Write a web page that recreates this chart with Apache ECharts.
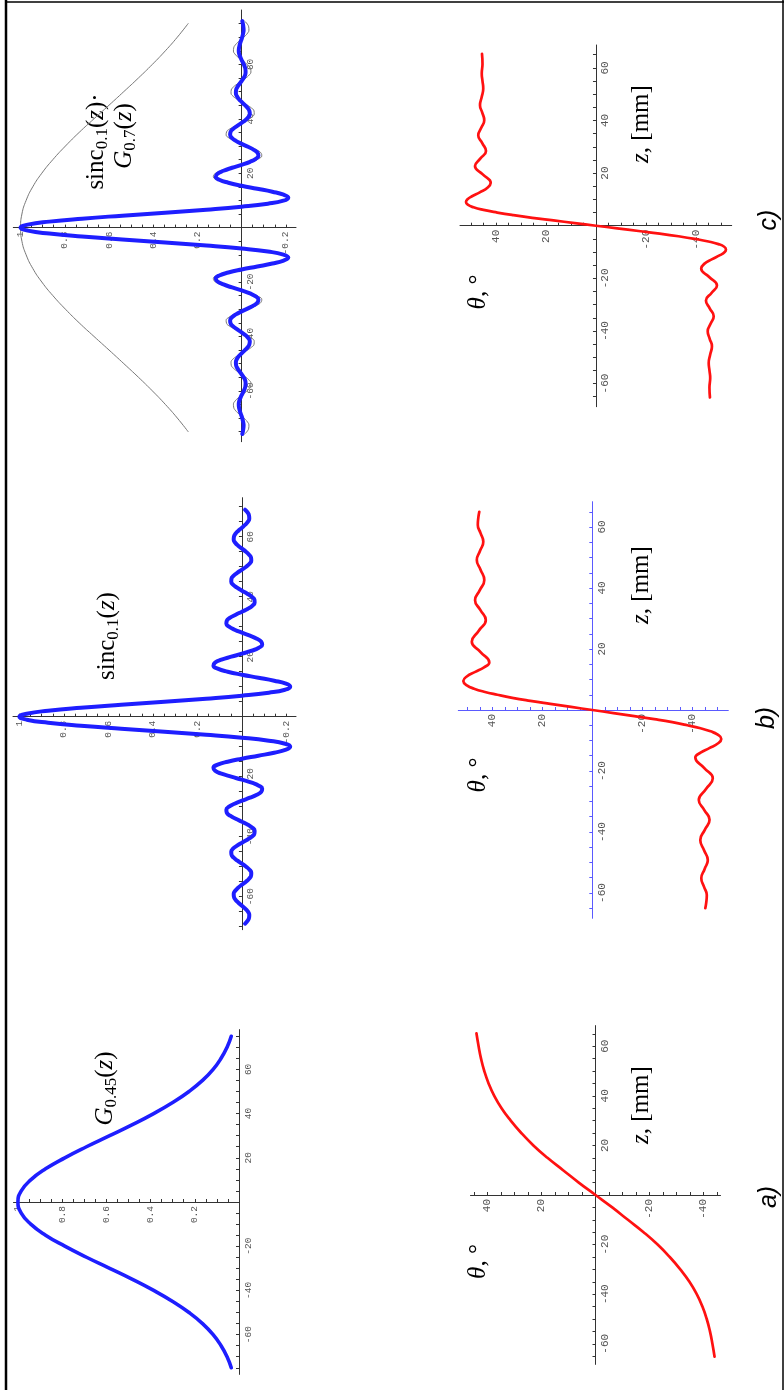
<!DOCTYPE html>
<html><head><meta charset="utf-8">
<script src="https://cdn.jsdelivr.net/npm/echarts@6/dist/echarts.min.js"></script>
<style>html,body{margin:0;padding:0;background:#fff}#c{width:784px;height:1390px}</style>
</head><body><div id="c"></div>
<script>
// ---------- data ----------
// panel a, top: G_0.45(z)
const zG = [-75,-70,-65,-60,-55,-50,-45,-40,-35,-30,-25,-20,-15,-10,-5,0,5,10,15,20,25,30,35,40,45,50,55,60,65,70,75];
const gA = [0.035,0.054,0.081,0.117,0.165,0.226,0.300,0.386,0.482,0.585,0.690,0.788,0.875,0.942,0.985,1,0.985,0.942,0.875,0.788,0.690,0.585,0.482,0.386,0.300,0.226,0.165,0.117,0.081,0.054,0.035];
// panel a, bottom: theta(z)
const zTa = [-65.2,-60,-55,-50,-45,-40,-35,-30,-25,-20,-15,-10,-5,0,5,10,15,20,25,30,35,40,45,50,55,60,65.2];
const thA = [-44.1,-43.3,-42.4,-41.2,-39.6,-37.5,-34.8,-31.4,-27.5,-23,-17.8,-12,-6.2,0,6.2,12,17.8,23,27.5,31.4,34.8,37.5,39.6,41.2,42.4,43.3,44.1];
// panel b, top: sinc_0.1(z)
const zB = [-69,-68,-67,-66,-65,-64,-63,-62,-61,-60,-59,-58,-57,-56,-55,-54,-53,-52,-51,-50,-49,-48,-47,-46,-45,-44,-43,-42,-41,-40,-39,-38,-37,-36,-35,-34,-33,-32,-31,-30,-29,-28,-27,-26,-25,-24,-23,-22,-21,-20,-19,-18,-17,-16,-15,-14,-13,-12,-11,-10,-9,-8,-7,-6,-5,-4,-3,-2,-1,0,1,2,3,4,5,6,7,8,9,10,11,12,13,14,15,16,17,18,19,20,21,22,23,24,25,26,27,28,29,30,31,32,33,34,35,36,37,38,39,40,41,42,43,44,45,46,47,48,49,50,51,52,53,54,55,56,57,58,59,60,61,62,63,64,65,66,67,68,69];
const sincB = [-0.014,-0.026,-0.032,-0.033,-0.027,-0.015,0,0.016,0.029,0.036,0.037,0.030,0.017,0,-0.018,-0.032,-0.041,-0.042,-0.034,-0.019,0,0.020,0.037,0.047,0.048,0.040,0.022,0,-0.024,-0.044,-0.056,-0.057,-0.047,-0.027,0,0.028,0.053,0.068,0.070,0.058,0.033,0,-0.036,-0.067,-0.087,-0.091,-0.076,-0.044,0,0.048,0.092,0.121,0.128,0.109,0.064,0,-0.074,-0.145,-0.198,-0.217,-0.194,-0.121,0,0.161,0.348,0.543,0.724,0.871,0.967,
 1,
 0.967,0.871,0.724,0.543,0.348,0.161,0,-0.121,-0.194,-0.217,-0.198,-0.145,-0.074,0,0.064,0.109,0.128,0.121,0.092,0.048,0,-0.044,-0.076,-0.091,-0.087,-0.067,-0.036,0,0.033,0.058,0.070,0.068,0.053,0.028,0,-0.027,-0.047,-0.057,-0.056,-0.044,-0.024,0,0.022,0.040,0.048,0.047,0.037,0.020,0,-0.019,-0.034,-0.042,-0.041,-0.032,-0.018,0,0.017,0.030,0.037,0.036,0.029,0.016,0,-0.015,-0.027,-0.033,-0.032,-0.026,-0.014];
// panel b, bottom: theta(z)
const zTb = [-65,-63,-60.7,-58,-55.2,-52.2,-49.2,-46,-42.6,-39.3,-36,-32.8,-29.5,-26,-22.4,-19,-15.6,-14,-12.5,-11,-9.5,-8,-7,-6,-5,-4,-3,-2,-1,0,1,2,3,4,5,6,7,8,9.5,11,12.5,14,15.6,19,22.4,26,29.5,32.8,36,39.3,42.6,46,49.2,52.2,55.2,58,60.7,63,65];
const thB = [-45.2,-45.6,-45.8,-44.7,-43.6,-44.9,-46.2,-44.7,-43.2,-45,-46.9,-44.8,-42.6,-45.4,-48.2,-44.7,-41.2,-43.3,-46.8,-50.2,-51.6,-50,-47.3,-43.3,-38,-32,-24.8,-16.8,-8.5,0,8.5,16.8,24.8,32,38,43.3,47.3,50,51.6,50.2,46.8,43.3,41.2,44.7,48.2,45.4,42.6,44.8,46.9,45,43.2,44.7,46.2,44.9,43.6,44.7,45.8,45.6,45.2];
// panel c, top: sinc_0.1(z)*G_0.7(z), thin grey G_0.7(z) and sinc_0.1(z)
const zC = [-75.9,-74.8,-73.7,-72.6,-71.5,-70.4,-69.3,-68.2,-67.1,-66,-64.9,-63.8,-62.7,-61.6,-60.5,-59.4,-58.3,-57.2,-56.1,-55,-53.9,-52.8,-51.7,-50.6,-49.5,-48.4,-47.3,-46.2,-45.1,-44,-42.9,-41.8,-40.7,-39.6,-38.5,-37.4,-36.3,-35.2,-34.1,-33,-31.9,-30.8,-29.7,-28.6,-27.5,-26.4,-25.3,-24.2,-23.1,-22,-20.9,-19.8,-18.7,-17.6,-16.5,-15.4,-14.3,-13.2,-12.1,-11,-9.9,-8.8,-7.7,-6.6,-5.5,-4.4,-3.3,-2.2,-1.1,0,1.1,2.2,3.3,4.4,5.5,6.6,7.7,8.8,9.9,11,12.1,13.2,14.3,15.4,16.5,17.6,18.7,19.8,20.9,22,23.1,24.2,25.3,26.4,27.5,28.6,29.7,30.8,31.9,33,34.1,35.2,36.3,37.4,38.5,39.6,40.7,41.8,42.9,44,45.1,46.2,47.3,48.4,49.5,50.6,51.7,52.8,53.9,55,56.1,57.2,58.3,59.4,60.5,61.6,62.7,63.8,64.9,66,67.1,68.2,69.3,70.4,71.5,72.6,73.7,74.8,75.9];
const sincGC = [-0.003,-0.006,-0.008,-0.009,-0.007,-0.004,0,0.005,0.009,0.012,0.013,0.011,0.006,0,-0.007,-0.013,-0.017,-0.018,-0.016,-0.009,0,0.010,0.019,0.025,0.026,0.022,0.013,0,-0.014,-0.027,-0.035,-0.037,-0.031,-0.018,0,0.020,0.038,0.050,0.052,0.044,0.026,0,-0.029,-0.055,-0.072,-0.076,-0.064,-0.038,0,0.043,0.082,0.109,0.117,0.101,0.060,0,-0.071,-0.139,-0.190,-0.211,-0.189,-0.119,0,0.159,0.346,0.540,0.722,0.870,0.967,
 1,
 0.967,0.870,0.722,0.540,0.346,0.159,0,-0.119,-0.189,-0.211,-0.190,-0.139,-0.071,0,0.060,0.101,0.117,0.109,0.082,0.043,0,-0.038,-0.064,-0.076,-0.072,-0.055,-0.029,0,0.026,0.044,0.052,0.050,0.038,0.020,0,-0.018,-0.031,-0.037,-0.035,-0.027,-0.014,0,0.013,0.022,0.026,0.025,0.019,0.010,0,-0.009,-0.016,-0.018,-0.017,-0.013,-0.007,0,0.006,0.011,0.013,0.012,0.009,0.005,0,-0.004,-0.007,-0.009,-0.008,-0.006,-0.003];
const sincC = sincB;
const g7 = [0.242,0.291,0.345,0.404,0.467,0.533,0.600,0.668,0.735,0.797,0.854,0.904,0.945,0.975,0.994,1,0.994,0.975,0.945,0.904,0.854,0.797,0.735,0.668,0.600,0.533,0.467,0.404,0.345,0.291,0.242];
// panel c, bottom: theta(z)
const zTc = [-65.3,-61.5,-57.9,-55,-52.2,-49,-45.8,-43,-40.1,-37.2,-34.4,-31.4,-28.4,-25.5,-22.7,-19.5,-16.3,-14.5,-12.7,-11.2,-10,-9,-8,-7,-6,-5,-4,-3,-2,-1,0,1,2,3,4,5,6,7,8,9,10,11.2,12.7,14.5,16.3,19.5,22.7,25.5,28.4,31.4,34.4,37.2,40.1,43,45.8,49,52.2,55,57.9,61.5,65.3];
const thC = [-45.6,-45.4,-45.7,-45.4,-45.1,-45.7,-46.4,-45.5,-44.7,-45.9,-47.1,-45.5,-44,-46.3,-48.4,-45.3,-42.1,-43.3,-46.5,-49.6,-51.5,-52,-51.3,-49,-45,-39.5,-33,-25.5,-17,-8.5,0,8.5,17,25.5,33,39.5,45,49,51.3,52,51.5,49.6,46.5,43.3,42.1,45.3,48.4,46.3,44,45.5,47.1,45.9,44.7,45.5,46.4,45.7,45.1,45.4,45.7,45.4,45.6];
// ticks and tick labels
const zTicks78 = [-75,-70,-65,-60,-55,-50,-45,-40,-35,-30,-25,-20,-15,-10,-5,5,10,15,20,25,30,35,40,45,50,55,60,65,70,75];
const zTicks70 = [-70,-65,-60,-55,-50,-45,-40,-35,-30,-25,-20,-15,-10,-5,5,10,15,20,25,30,35,40,45,50,55,60,65,70];
const zTicks65 = [-65,-60,-55,-50,-45,-40,-35,-30,-25,-20,-15,-10,-5,5,10,15,20,25,30,35,40,45,50,55,60,65];
const zLabels = [-60,-40,-20,20,40,60];
const vTicksG = [0.05,0.1,0.15,0.2,0.25,0.3,0.35,0.4,0.45,0.5,0.55,0.6,0.65,0.7,0.75,0.8,0.85,0.9,0.95,1];
const vTicksS = [-0.2,-0.15,-0.1,-0.05,0.05,0.1,0.15,0.2,0.25,0.3,0.35,0.4,0.45,0.5,0.55,0.6,0.65,0.7,0.75,0.8,0.85,0.9,0.95,1];
const vLabelsG = [0.2,0.4,0.6,0.8,1];
const vLabelsS = [-0.2,0.2,0.4,0.6,0.8,1];
const thTicks45 = [-45,-40,-35,-30,-25,-20,-15,-10,-5,5,10,15,20,25,30,35,40,45];
const thTicks50 = [-50,-45,-40,-35,-30,-25,-20,-15,-10,-5,5,10,15,20,25,30,35,40,45,50];
const thLabels = [-40,-20,20,40];

// ---------- layout ----------
const grids = [
  { left: 13.5, top: 1029.6, width: 225.5, height: 344.8 },
  { left: 470.5, top: 1025.6, width: 250, height: 338.8 },
  { left: 13, top: 497.7, width: 283, height: 432 },
  { left: 458.3, top: 501.7, width: 270, height: 416.6 },
  { left: 13.3, top: 10, width: 282.7, height: 431.7 },
  { left: 460, top: 45, width: 271.7, height: 361.7 }
];
const vRange = [[0, 1.02], [-46.3, 46.3], [-0.243, 1.029], [-54.4, 53.6], [-0.246, 1.033], [-54.3, 54.4]];
const zRange = [[-78, 78], [-68.3, 68.3], [-71, 73], [-68.3, 68.3], [-78.7, 80], [-68.8, 68.7]];

const pairs = (vs, zs) => zs.map((z, i) => [vs[i], z]);
const mono = 'Liberation Mono';
const serif = 'Liberation Serif';

function vAxis(gi, ticks, labels, fs, col) {
  const [mn, mx] = vRange[gi], [zmn, zmx] = zRange[gi];
  const off = -grids[gi].height * (0 - zmn) / (zmx - zmn);
  return {
    type: 'value', gridIndex: gi, min: mn, max: mx, inverse: true, position: 'bottom', offset: off,
    axisLine: { onZero: false, lineStyle: { color: col, width: 1 } },
    axisTick: { show: true, inside: true, length: 3, customValues: ticks, lineStyle: { color: col, width: 1 } },
    axisLabel: { customValues: labels, rotate: 90, fontSize: fs, fontFamily: mono, color: '#555', margin: 4,
                 formatter: v => String(v) },
    splitLine: { show: false }
  };
}
function zAxis(gi, ticks, fs, col) {
  const [mn, mx] = vRange[gi], [zmn, zmx] = zRange[gi];
  const off = -grids[gi].width * (0 - mn) / (mx - mn);
  return {
    type: 'value', gridIndex: gi, min: zmn, max: zmx, position: 'right', offset: off,
    axisLine: { onZero: false, lineStyle: { color: col, width: 1 } },
    axisTick: { show: true, inside: true, length: 3, customValues: ticks, lineStyle: { color: col, width: 1 } },
    axisLabel: { customValues: zLabels, rotate: 90, fontSize: fs, fontFamily: mono, color: '#555', margin: 4,
                 formatter: v => String(v) },
    splitLine: { show: false }
  };
}
function line(gi, data, color, width, smooth) {
  return { type: 'line', xAxisIndex: gi, yAxisIndex: gi, data: data, showSymbol: false, symbol: 'none',
           smooth: smooth, silent: true, animation: false, z: 5,
           lineStyle: { color: color, width: width, cap: 'round', join: 'round' } };
}

const BLUE = '#1e1eff', RED = '#ff1111', AX = '#333', AXB = '#5a5aff';

const rich = {
  i: { fontFamily: serif, fontStyle: 'italic', fontSize: 25, lineHeight: 30, color: '#000' },
  n: { fontFamily: serif, fontSize: 25, lineHeight: 30, color: '#000' },
  s: { fontFamily: serif, fontSize: 17, lineHeight: 14, verticalAlign: 'bottom', color: '#000' }
};
function rtext(x, y, t) {
  return { type: 'text', x: x, y: y, rotation: Math.PI / 2, silent: true,
           style: { text: t, rich: rich, align: 'center', verticalAlign: 'middle' } };
}
function ptext(x, y, t) {
  return { type: 'text', x: x, y: y, rotation: Math.PI / 2, silent: true,
           style: { text: t, fontFamily: 'Liberation Sans', fontStyle: 'italic', fontSize: 25, fill: '#000',
                    align: 'center', verticalAlign: 'middle' } };
}

const option = {
  backgroundColor: '#fff',
  animation: false,
  grid: grids,
  xAxis: [
    vAxis(0, vTicksG, vLabelsG, 9.5, AX),
    vAxis(1, thTicks45, thLabels, 11, AX),
    vAxis(2, vTicksS, vLabelsS, 9.5, AX),
    vAxis(3, thTicks50, thLabels, 11, AXB),
    vAxis(4, vTicksS, vLabelsS, 9.5, AX),
    vAxis(5, thTicks50, thLabels, 11, AX)
  ],
  yAxis: [
    zAxis(0, zTicks78, 9.5, AX),
    zAxis(1, zTicks65, 11, AX),
    zAxis(2, zTicks70, 9.5, AX),
    zAxis(3, zTicks65, 11, AXB),
    zAxis(4, zTicks78, 9.5, AX),
    zAxis(5, zTicks65, 11, AX)
  ],
  series: [
    line(0, pairs(gA, zG), BLUE, 3.6, true),
    line(1, pairs(thA, zTa), RED, 2.7, true),
    line(2, pairs(sincB, zB), BLUE, 4, true),
    line(3, pairs(thB, zTb), RED, 2.7, true),
    line(4, pairs(g7, zG), '#777', 1, true),
    line(4, pairs(sincC, zC), '#777', 1, true),
    line(4, pairs(sincGC, zC), BLUE, 4, true),
    line(5, pairs(thC, zTc), RED, 2.7, true)
  ],
  graphic: [
    { type: 'line', silent: true, shape: { x1: 6, y1: 0, x2: 6, y2: 1390 }, style: { stroke: '#000', lineWidth: 2.5 } },
    { type: 'line', silent: true, shape: { x1: 5, y1: 2, x2: 784, y2: 2 }, style: { stroke: '#000', lineWidth: 1.5 } },
    { type: 'line', silent: true, shape: { x1: 783, y1: 0, x2: 783, y2: 1390 }, style: { stroke: '#000', lineWidth: 1.5 } },
    rtext(105, 1088.5, '{i|G}{s|0.45}{n|(}{i|z}{n|)}'),
    rtext(107, 636, '{n|sinc}{s|0.1}{n|(}{i|z}{n|)}'),
    rtext(96, 141.5, '{n|sinc}{s|0.1}{n|(}{i|z}{n|)·}'),
    rtext(124, 136, '{i|G}{s|0.7}{n|(}{i|z}{n|)}'),
    rtext(478, 1261.5, '{i|θ}{n|, °}'),
    rtext(478, 775, '{i|θ}{n|, °}'),
    rtext(478, 292, '{i|θ}{n|, °}'),
    rtext(641, 1105, '{i|z}{n|, [mm]}'),
    rtext(641, 585, '{i|z}{n|, [mm]}'),
    rtext(641, 124, '{i|z}{n|, [mm]}'),
    ptext(769, 1197, 'a)'),
    ptext(767, 718, 'b)'),
    ptext(769, 220, 'c)')
  ]
};
const chart = echarts.init(document.getElementById('c'), null, { renderer: 'canvas', width: 784, height: 1390 });
chart.setOption(option);
</script></body></html>
